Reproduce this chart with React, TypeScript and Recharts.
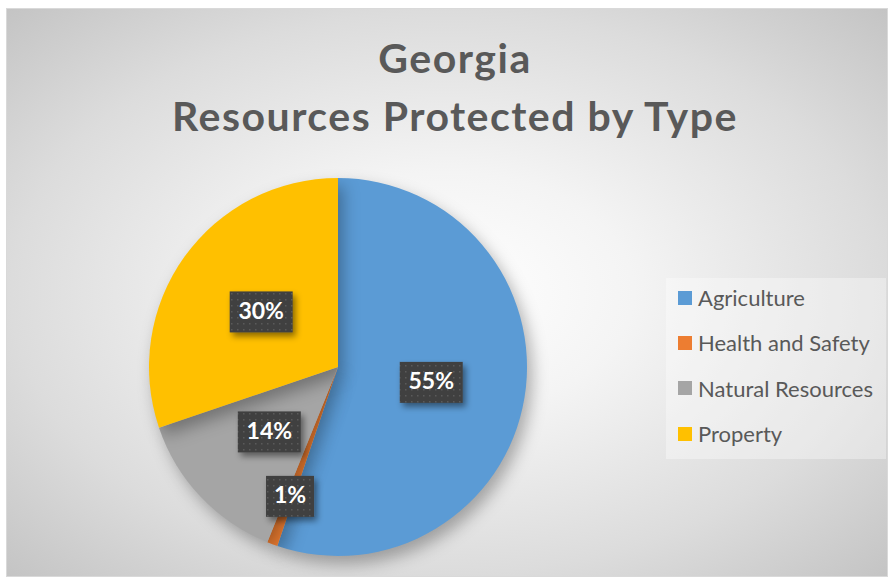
import { PieChart, Pie, Cell, Legend } from 'recharts';

const categories = ['Agriculture', 'Health and Safety', 'Natural Resources', 'Property'];
const shares = [55.2, 0.9, 13.7, 30.2];
const colors = ['#5B9BD5', '#ED7D31', '#A5A5A5', '#FFC000'];
const titleLines = ['Georgia', 'Resources Protected by Type'];

const data = categories.map((name, i) => ({ name, value: shares[i] }));

const RAD = Math.PI / 180;

const renderLabel = (props: any) => {
  const { cx, cy, midAngle, outerRadius, percent, index } = props;
  const r = percent < 0.05 ? outerRadius * 0.73 : outerRadius * 0.5;
  const x = cx + r * Math.cos(-midAngle * RAD);
  const y = cy + r * Math.sin(-midAngle * RAD);
  const text = `${Math.round(percent * 100)}%`;
  const w = text.length * 15 + 18;
  const h = 41;
  return (
    <g key={`lbl-${index}`}>
      <defs>
        <pattern id={`dots-${index}`} width="6" height="6" patternUnits="userSpaceOnUse">
          <rect width="6" height="6" fill="#404040" />
          <rect x="2" y="2" width="1.5" height="1.5" fill="#5a5a5a" />
        </pattern>
        <filter id={`lshadow-${index}`} x="-30%" y="-30%" width="160%" height="170%">
          <feDropShadow dx="3" dy="4" stdDeviation="3" floodColor="#000" floodOpacity="0.45" />
        </filter>
      </defs>
      <rect
        x={x - w / 2}
        y={y - h / 2}
        width={w}
        height={h}
        fill={`url(#dots-${index})`}
        filter={`url(#lshadow-${index})`}
      />
      <text
        x={x}
        y={y + 1}
        fill="#ffffff"
        textAnchor="middle"
        dominantBaseline="middle"
        fontFamily="Lato, sans-serif"
        fontWeight="bold"
        fontSize={23}
      >
        {text}
      </text>
    </g>
  );
};

const renderLegend = (props: any) => {
  const { payload } = props;
  return (
    <div
      style={{
        width: 220,
        height: 181,
        background: 'rgba(255,255,255,0.35)',
        boxSizing: 'border-box',
      }}
    >
      <div style={{ position: 'relative', top: -3 }}>
        {(payload || []).map((entry: any, i: number) => (
          <div
            key={`leg-${i}`}
            style={{ display: 'flex', alignItems: 'center', height: 45.3, paddingLeft: 12 }}
          >
            <span style={{ width: 14, height: 14, background: entry.color, marginRight: 6 }} />
            <span style={{ fontFamily: 'Lato, sans-serif', fontSize: 22, color: '#595959' }}>
              {entry.value}
            </span>
          </div>
        ))}
      </div>
    </div>
  );
};

export default function App() {
  return (
    <div style={{ position: 'relative', width: 890, height: 577 }}>
      <style>{`body{margin:0;}`}</style>
      <div
        style={{
          position: 'absolute',
          left: 6,
          top: 8,
          width: 880,
          height: 567,
          border: '1px solid #d9d9d9',
          background:
            'radial-gradient(ellipse at 50% 50%, #ffffff 0%, #f4f4f4 30%, #dcdcdc 70%, #c4c4c4 100%)',
        }}
      >
        <div style={{ position: 'absolute', left: 0, top: 0 }}>
          <PieChart width={880} height={567} margin={{ top: 0, right: 0, bottom: 0, left: 0 }}>
            <Pie
              data={data}
              dataKey="value"
              nameKey="name"
              cx={331}
              cy={358}
              outerRadius={189}
              startAngle={90}
              endAngle={-270}
              stroke="none"
              labelLine={false}
              label={renderLabel}
              isAnimationActive={false}
              style={{ filter: 'drop-shadow(5px 8px 8px rgba(0,0,0,0.3))' }}
            >
              {data.map((d, i) => (
                <Cell key={d.name} fill={colors[i]} />
              ))}
            </Pie>
            <Legend
              layout="vertical"
              align="right"
              verticalAlign="top"
              content={renderLegend}
              wrapperStyle={{ left: 659, top: 269, width: 220 }}
            />
          </PieChart>
        </div>
      </div>
      <svg
        width={890}
        height={577}
        style={{ position: 'absolute', left: 0, top: 0, pointerEvents: 'none' }}
      >
        {titleLines.map((t, i) => (
          <text
            key={t}
            x={455}
            y={73 + i * 58}
            textAnchor="middle"
            fontFamily="Lato, sans-serif"
            fontWeight="bold"
            fontSize={41}
            letterSpacing={1.5}
            fill="#595959"
          >
            {t}
          </text>
        ))}
      </svg>
    </div>
  );
}
